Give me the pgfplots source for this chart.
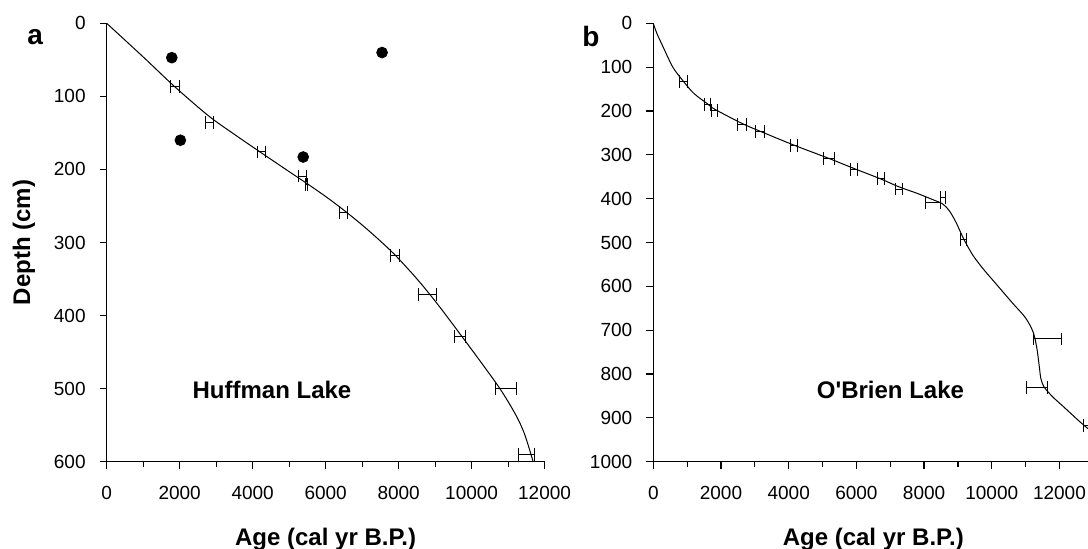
\documentclass[border=0pt]{standalone}
\usepackage{fontspec}
\setmainfont{Liberation Sans}
\usepackage{pgfplots}
\pgfplotsset{compat=1.18}
\pgfplotsset{
  agestyle/.style={
    scale only axis, height=219.2pt,
    axis lines=left, axis line style={-, line width=0.65pt, black},
    y dir=reverse,
    tick align=outside, major tick length=3.5pt, minor tick length=2.5pt,
    tick style={line width=0.6pt, black},
    xtick={0,2000,...,12000}, minor x tick num=1,
    scaled x ticks=false, scaled y ticks=false,
    /pgf/number format/assume math mode=true,
    /pgf/number format/set thousands separator={},
    ticklabel style={font=\fontsize{9.5}{11}\selectfont, black},
    xticklabel style={yshift=-5pt},
    yticklabel style={xshift=-3.5pt},
    label style={font=\bfseries\fontsize{12}{14}\selectfont},
    xlabel={Age (cal yr B.P.)},
    xlabel style={at={(axis description cs:0.5,-0.19)}, anchor=base},
    hbar/.style={only marks, mark=*, mark options={scale=0, draw=none, fill=none}, black,
      error bars/.cd, x dir=both, x explicit, error mark=|,
      error bar style={line width=0.5pt, black},
      error mark options={black, mark size=3.2pt, line width=0.5pt}},
  }
}
\begin{document}
\begin{tikzpicture}
\path[use as bounding box] (0,0) rectangle (544pt,274pt);
% ---------- panel a ----------
\begin{axis}[agestyle, at={(53.35pt,43.15pt)}, anchor=south west,
  width=218.95pt, xmin=0, xmax=12000, ymin=0, ymax=600,
  ytick={0,100,...,600},
  ylabel={Depth (cm)},
  ylabel style={at={(axis description cs:-0.189,0.5)}, anchor=center, rotate=0}]
\addplot[black, line width=0.5pt, smooth] coordinates {
(0,0) (1000,46) (1870,87) (2800,127) (3500,152) (4230,177) (5000,203)
(5450,218) (6000,237) (6480,255) (7000,276) (7500,298) (7900,317)
(8400,344) (8790,367) (9200,393) (9680,425) (10200,460) (10776,500)
(11200,535) (11450,562) (11686,600)};
\addplot[hbar] coordinates {
(1870,86) +- (120,0)
(2811,136) +- (110,0)
(4230,176) +- (110,0)
(5375,209) +- (110,0)
(5472,221) +- (20,0)
(6480,259) +- (110,0)
(7899,318) +- (120,0)
(8790,371) +- (245,0)
(9680,429) +- (150,0)
(10938,500) +- (290,0)
(11505,590) +- (220,0)};
\addplot[only marks, mark=*, mark size=2.7pt, black] coordinates {
(1784,47) (2019,160) (5385,183) (7546,40)};
\node[font=\bfseries\fontsize{12}{14}\selectfont, anchor=base] at (axis cs:4530,513) {Huffman Lake};
\end{axis}
% ---------- panel b ----------
\begin{axis}[agestyle, at={(326.65pt,43.15pt)}, anchor=south west,
  width=220pt, xmin=0, xmax=13000, ymin=0, ymax=1000,
  ytick={0,100,...,1000}]
\addplot[black, line width=0.5pt, smooth] coordinates {
(0,0) (100,22) (266,50) (577,100) (886,132) (1200,160) (1589,183) (1816,196)
(2611,228) (3149,246) (4159,278) (5181,308) (5926,331) (6720,355) (7258,373)
(7800,388) (8250,402) (8550,412) (8750,428) (8950,455) (9178,493) (9450,530)
(9766,562) (10100,592) (10600,637) (11000,672) (11225,705) (11330,740)
(11400,780) (11450,810) (11550,830) (11800,852) (12112,874) (12605,909) (12850,925)};
\addplot[hbar] coordinates {
(886,132) +- (110,0)
(1589,185) +- (90,0)
(1816,198) +- (90,0)
(2611,230) +- (130,0)
(3149,247) +- (140,0)
(4159,279) +- (100,0)
(5181,309) +- (160,0)
(5926,333) +- (100,0)
(6720,354) +- (100,0)
(7258,378) +- (90,0)
(8250,408) +- (222,0)
(8567,397) +- (75,0)
(9178,493) +- (90,0)
(11643,720) +- (410,0)
(11340,831) +- (310,0)
(12800,918) +- (90,0)};
\node[font=\bfseries\fontsize{12}{14}\selectfont, anchor=base] at (axis cs:7007,855) {O\textquotesingle Brien Lake};
\end{axis}
\node[font=\bfseries\fontsize{14}{16}\selectfont, anchor=base west, inner sep=0pt] at (13.5pt,252pt) {a};
\node[font=\bfseries\fontsize{14}{16}\selectfont, anchor=base west, inner sep=0pt] at (291pt,251pt) {b};
\end{tikzpicture}
\end{document}
